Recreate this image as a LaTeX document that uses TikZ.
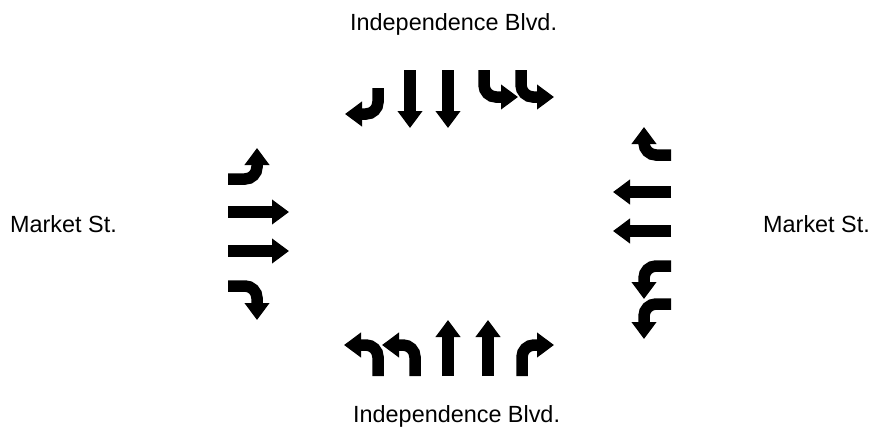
\documentclass[tikz,border=0pt]{standalone}
\usepackage{fontspec}
\setmainfont{Liberation Sans}
\usetikzlibrary{arrows.meta}

\begin{document}
\begin{tikzpicture}[
  x=1pt, y=-1pt,
  every node/.style={font=\fontsize{23.4}{28}\selectfont, inner sep=0pt},
  lane/.style={line width=11.5pt, rounded corners=12pt,
    -{Triangle[width=24pt,length=17pt]}}]
  \useasboundingbox (0,0) rectangle (872,426);
  % street names
  \node[anchor=base west] (north) at (350,30) {Independence Blvd.};
  \node[anchor=base west] (south) at (353,422) {Independence Blvd.};
  \node[anchor=base west] (west) at (10,232) {Market St.};
  \node[anchor=base west] (east) at (763,232) {Market St.};
  % southbound lanes
  \draw[lane] (378,88) -- (378,114) -- (345,114);
  \draw[lane] (410,70) -- (410,128);
  \draw[lane] (448,70) -- (448,128);
  \draw[lane] (484,70) -- (484,97) -- (518,97);
  \draw[lane] (521,70) -- (521,97) -- (554,97);
  % northbound lanes
  \draw[lane] (378,376) -- (378,345) -- (344,345);
  \draw[lane] (415,376) -- (415,345) -- (382,345);
  \draw[lane] (448,376) -- (448,320);
  \draw[lane] (488,376) -- (488,320);
  \draw[lane] (522,376) -- (522,345) -- (554,345);
  % eastbound lanes
  \draw[lane] (228,179) -- (257,179) -- (257,148);
  \draw[lane] (228,212) -- (289,212);
  \draw[lane] (228,251) -- (289,251);
  \draw[lane] (228,286) -- (257,286) -- (257,320);
  % westbound lanes
  \draw[lane] (671,155) -- (644,155) -- (644,127);
  \draw[lane] (671,192) -- (613,192);
  \draw[lane] (671,231) -- (613,231);
  \draw[lane] (671,266) -- (644,266) -- (644,299);
  \draw[lane] (671,304) -- (644,304) -- (644,339);
\end{tikzpicture}
\end{document}
